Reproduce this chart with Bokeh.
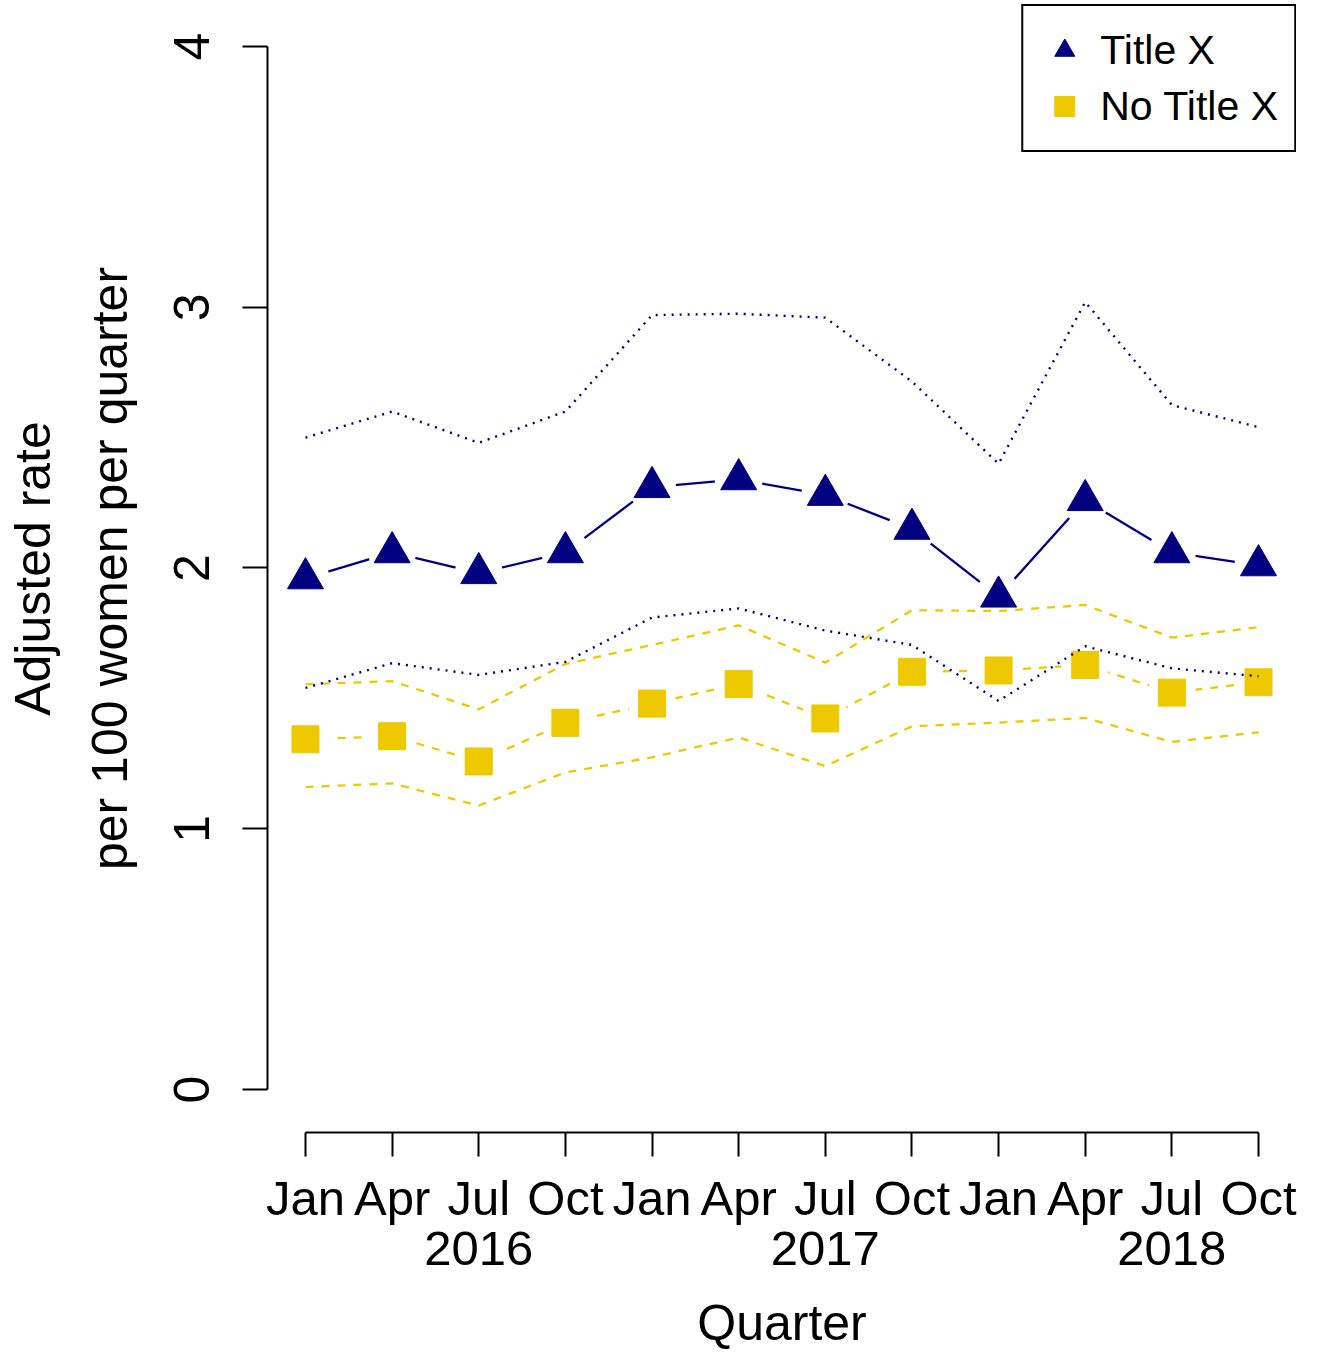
from bokeh.plotting import figure
from bokeh.models import Range1d, LinearAxis, FixedTicker, Legend, LegendItem, ColumnDataSource
from bokeh.embed import file_html
from bokeh.resources import INLINE

# ---- data ----
quarters = list(range(1, 13))
month_labels = ["Jan", "Apr", "Jul", "Oct"] * 3
year_ticks = [3, 7, 11]
year_labels = ["2016", "2017", "2018"]

title_x = [1.96, 2.06, 1.98, 2.06, 2.31, 2.34, 2.28, 2.15, 1.89, 2.26, 2.06, 2.01]
title_x_upper = [2.50, 2.60, 2.48, 2.60, 2.97, 2.975, 2.96, 2.715, 2.40, 3.02, 2.625, 2.54]
title_x_lower = [1.54, 1.635, 1.59, 1.64, 1.81, 1.845, 1.76, 1.705, 1.49, 1.70, 1.615, 1.585]

no_title_x = [1.343, 1.355, 1.258, 1.406, 1.48, 1.555, 1.423, 1.602, 1.607, 1.628, 1.522, 1.562]
no_title_x_upper = [1.554, 1.566, 1.458, 1.632, 1.705, 1.78, 1.637, 1.838, 1.835, 1.858, 1.733, 1.773]
no_title_x_lower = [1.160, 1.174, 1.089, 1.216, 1.274, 1.350, 1.240, 1.393, 1.407, 1.425, 1.333, 1.370]

NAVY = "#000080"
GOLD = "#EEC900"
FONT = "Liberation Sans"

src = ColumnDataSource(dict(
    q=quarters, tx=title_x, txu=title_x_upper, txl=title_x_lower,
    nt=no_title_x, ntu=no_title_x_upper, ntl=no_title_x_lower,
))

p = figure(
    width=1321, height=1353,
    x_range=Range1d(0.5614, 12.4386), y_range=Range1d(-0.1649, 4.161),
    output_backend="svg", toolbar_location=None,
    x_axis_type=None, y_axis_type=None,
    min_border_left=267, min_border_right=25, min_border_top=4, min_border_bottom=221,
)
p.outline_line_color = None
p.background_fill_color = "white"
p.border_fill_color = "white"

# ---- Title X series ----
p.line("q", "tx", source=src, line_color=NAVY, line_width=2.3)
p.scatter("q", "tx", source=src, marker="circle", size=48, fill_color="white", line_color=None)
tri = p.scatter("q", "tx", source=src, marker="triangle", size=36, fill_color=NAVY, line_color=NAVY, line_width=1)

# ---- No Title X series ----
p.line("q", "nt", source=src, line_color=GOLD, line_width=2.3, line_dash="8 8")
p.scatter("q", "nt", source=src, marker="circle", size=48, fill_color="white", line_color=None)
sq = p.scatter("q", "nt", source=src, marker="square", size=27, fill_color=GOLD, line_color=GOLD, line_width=1)

# ---- confidence bounds ----
p.line("q", "ntu", source=src, line_color=GOLD, line_width=2.3, line_dash="8 8")
p.line("q", "ntl", source=src, line_color=GOLD, line_width=2.3, line_dash="8 8")
p.line("q", "txu", source=src, line_color=NAVY, line_width=2.4, line_dash="2 6")
p.line("q", "txl", source=src, line_color=NAVY, line_width=2.4, line_dash="2 6")

# ---- axes ----
def style_axis(ax, size="50px"):
    ax.major_label_text_font = FONT
    ax.major_label_text_font_size = size
    ax.major_label_text_color = "black"
    ax.axis_label_text_font = FONT
    ax.axis_label_text_font_size = "50px"
    ax.axis_label_text_font_style = "normal"
    ax.axis_label_text_color = "black"
    ax.minor_tick_line_color = None

yaxis = LinearAxis(ticker=FixedTicker(ticks=[0, 1, 2, 3, 4]), bounds=(0, 4),
                   axis_label="per 100 women per quarter")
style_axis(yaxis)
yaxis.major_label_orientation = "vertical"
yaxis.axis_line_width = 2
yaxis.major_tick_line_width = 2
yaxis.major_tick_in = 0
yaxis.major_tick_out = 25
yaxis.major_label_standoff = 33
yaxis.axis_label_standoff = 34
p.add_layout(yaxis, "left")

yaxis2 = LinearAxis(ticker=FixedTicker(ticks=[]), axis_label="Adjusted rate")
style_axis(yaxis2)
yaxis2.axis_line_color = None
yaxis2.major_tick_line_color = None
yaxis2.major_tick_out = 0
yaxis2.major_tick_in = 0
yaxis2.major_label_standoff = 0
yaxis2.axis_label_standoff = 18
p.add_layout(yaxis2, "left")

xaxis = LinearAxis(ticker=FixedTicker(ticks=quarters), bounds=(1, 12),
                   major_label_overrides={q: m for q, m in zip(quarters, month_labels)})
style_axis(xaxis, "49px")
xaxis.axis_line_width = 2
xaxis.major_tick_line_width = 2
xaxis.major_tick_in = 0
xaxis.major_tick_out = 24
xaxis.major_label_standoff = 14
p.add_layout(xaxis, "below")

xaxis2 = LinearAxis(ticker=FixedTicker(ticks=year_ticks), axis_label="Quarter",
                    major_label_overrides={t: y for t, y in zip(year_ticks, year_labels)})
style_axis(xaxis2, "49px")
xaxis2.axis_line_color = None
xaxis2.major_tick_line_color = None
xaxis2.major_tick_in = 0
xaxis2.major_tick_out = 0
xaxis2.major_label_standoff = 4
xaxis2.axis_label_standoff = 27
p.add_layout(xaxis2, "below")

# ---- legend ----
legend = Legend(items=[LegendItem(label="Title X", renderers=[tri]),
                       LegendItem(label="No Title X", renderers=[sq])],
                location="top_right", margin=0, padding=16, spacing=0,
                glyph_width=50, glyph_height=56, label_standoff=11,
                label_text_font=FONT, label_text_font_size="41px",
                label_text_color="black",
                border_line_color="black", border_line_width=2, border_line_alpha=1.0,
                background_fill_color="white", background_fill_alpha=1.0)
p.add_layout(legend)

open("out.html", "w").write(file_html(p, INLINE))
